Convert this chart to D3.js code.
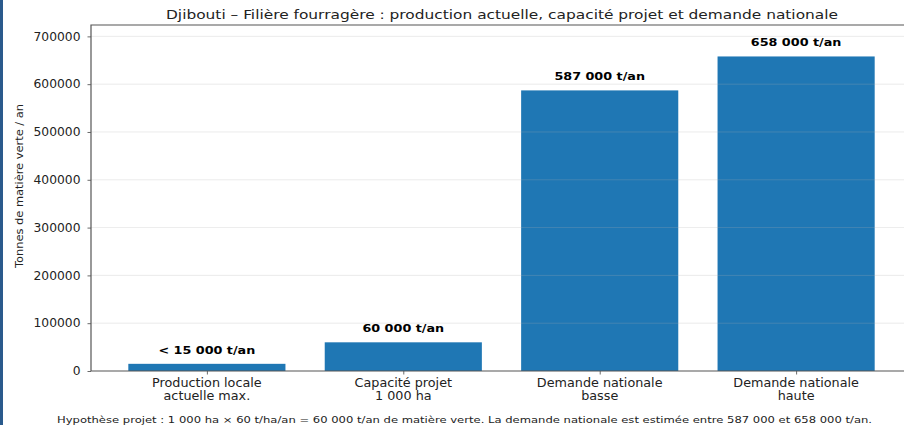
<!DOCTYPE html>
<html>
<head>
<meta charset="utf-8">
<script src="https://cdn.jsdelivr.net/npm/d3@7"></script>
<style>
  body { margin: 0; background: #fff; }
  svg { display: block; font-family: "DejaVu Sans", sans-serif; }
</style>
</head>
<body>
<script>
var categories = [
    ["Production locale", "actuelle max."],
    ["Capacité projet", "1 000 ha"],
    ["Demande nationale", "basse"],
    ["Demande nationale", "haute"]
];
var values = [15000, 60000, 587000, 658000];
var barLabels = ["< 15 000 t/an", "60 000 t/an", "587 000 t/an", "658 000 t/an"];
var yTicks = [0, 100000, 200000, 300000, 400000, 500000, 600000, 700000];

var chartTitle = "Djibouti – Filière fourragère : production actuelle, capacité projet et demande nationale";
var yTitle = "Tonnes de matière verte / an";
var footnote = "Hypothèse projet : 1 000 ha × 60 t/ha/an = 60 000 t/an de matière verte. La demande nationale est estimée entre 587 000 et 658 000 t/an.";

var W = 904, H = 425;
var margin = {top: 25, left: 91, right: 912, bottom: 371};
var barColor = "#1f77b4";

// the source picture is a little wider than it is tall, so widen the glyphs
var stretch = function(sel, k) {
    sel.each(function() {
        var w = this.getComputedTextLength();
        d3.select(this)
            .attr("textLength", w * k)
            .attr("lengthAdjust", "spacingAndGlyphs");
    });
};

var svg = d3.select("body").append("svg")
    .attr("width", W)
    .attr("height", H);

// left frame border
svg.append("rect")
    .attr("x", 0).attr("y", 0)
    .attr("width", 3).attr("height", H)
    .attr("fill", "#2a5a8c");

var x = d3.scaleLinear()
    .domain([-0.59, 3.59])
    .range([margin.left, margin.right]);

var y = d3.scaleLinear()
    .domain([0, 723800])
    .range([margin.bottom, margin.top]);

var g = svg.append("g");

// bars
g.selectAll("rect.bar")
    .data(values)
    .enter()
    .append("rect")
    .attr("class", "bar")
    .attr("x", function(d, i) { return x(i - 0.4); })
    .attr("width", function(d, i) { return x(i + 0.4) - x(i - 0.4); })
    .attr("y", function(d) { return y(d); })
    .attr("height", function(d) { return y(0) - y(d); })
    .attr("fill", barColor);

// grid over bars
g.selectAll("line.grid")
    .data(yTicks.slice(1))
    .enter()
    .append("line")
    .attr("class", "grid")
    .attr("x1", margin.left)
    .attr("x2", margin.right)
    .attr("y1", function(d) { return y(d); })
    .attr("y2", function(d) { return y(d); })
    .style("stroke", "#b0b0b0")
    .style("stroke-width", 0.8)
    .style("opacity", 0.3);

// bar labels
var vals = g.selectAll("text.val")
    .data(values)
    .enter()
    .append("text")
    .attr("class", "val")
    .attr("x", function(d, i) { return x(i); })
    .attr("y", function(d) { return y(d) - 10; })
    .attr("text-anchor", "middle")
    .attr("font-size", 11)
    .attr("font-weight", "bold")
    .attr("fill", "#000")
    .text(function(d, i) { return barLabels[i]; });
stretch(vals, 1.16);

// y axis
var yAxis = g.append("g")
    .attr("transform", "translate(" + margin.left + ",0)")
    .call(d3.axisLeft(y).tickValues(yTicks).tickFormat(d3.format("d")).tickSize(3.5).tickPadding(7));
yAxis.select(".domain").remove();
yAxis.selectAll("text").attr("font-size", 11.5).attr("fill", "#222").attr("font-family", "DejaVu Sans");
yAxis.selectAll("line").attr("stroke", "#444").attr("stroke-width", 0.8);
stretch(yAxis.selectAll("text"), 1.07);

// x axis
var xAxis = g.append("g")
    .attr("transform", "translate(0," + margin.bottom + ")")
    .call(d3.axisBottom(x).tickValues([0, 1, 2, 3]).tickFormat("").tickSize(3.5));
xAxis.select(".domain").remove();
xAxis.selectAll("line").attr("stroke", "#444").attr("stroke-width", 0.8);

var xl = g.selectAll("text.cat")
    .data(categories)
    .enter()
    .append("text")
    .attr("class", "cat")
    .attr("text-anchor", "middle")
    .attr("font-size", 11.5)
    .attr("fill", "#222");
xl.each(function(d, i) {
    var t = d3.select(this);
    d.forEach(function(line, k) {
        t.append("tspan")
            .attr("x", x(i))
            .attr("y", margin.bottom + 16 + k * 13)
            .text(line);
    });
});
stretch(xl.selectAll("tspan"), 1.11);

// spines
g.append("path")
    .attr("d", "M" + margin.left + "," + margin.top + "V" + margin.bottom + "H" + margin.right + "V" + margin.top + "Z")
    .attr("fill", "none")
    .attr("stroke", "#555")
    .attr("stroke-width", 1.2);

// title
svg.append("text")
    .attr("x", 502)
    .attr("y", 19)
    .attr("text-anchor", "middle")
    .attr("font-size", 13)
    .attr("fill", "#222")
    .attr("textLength", 672)
    .attr("lengthAdjust", "spacingAndGlyphs")
    .text(chartTitle);

// y label
svg.append("text")
    .attr("transform", "translate(23," + ((margin.top + margin.bottom) / 2 - 12) + ") rotate(-90)")
    .attr("text-anchor", "middle")
    .attr("font-size", 11)
    .attr("fill", "#222")
    .attr("textLength", 164)
    .attr("lengthAdjust", "spacingAndGlyphs")
    .text(yTitle);

// footnote
svg.append("text")
    .attr("x", 464.5)
    .attr("y", 423)
    .attr("text-anchor", "middle")
    .attr("font-size", 9.5)
    .attr("fill", "#222")
    .attr("textLength", 815)
    .attr("lengthAdjust", "spacingAndGlyphs")
    .text(footnote);
</script>
</body>
</html>
